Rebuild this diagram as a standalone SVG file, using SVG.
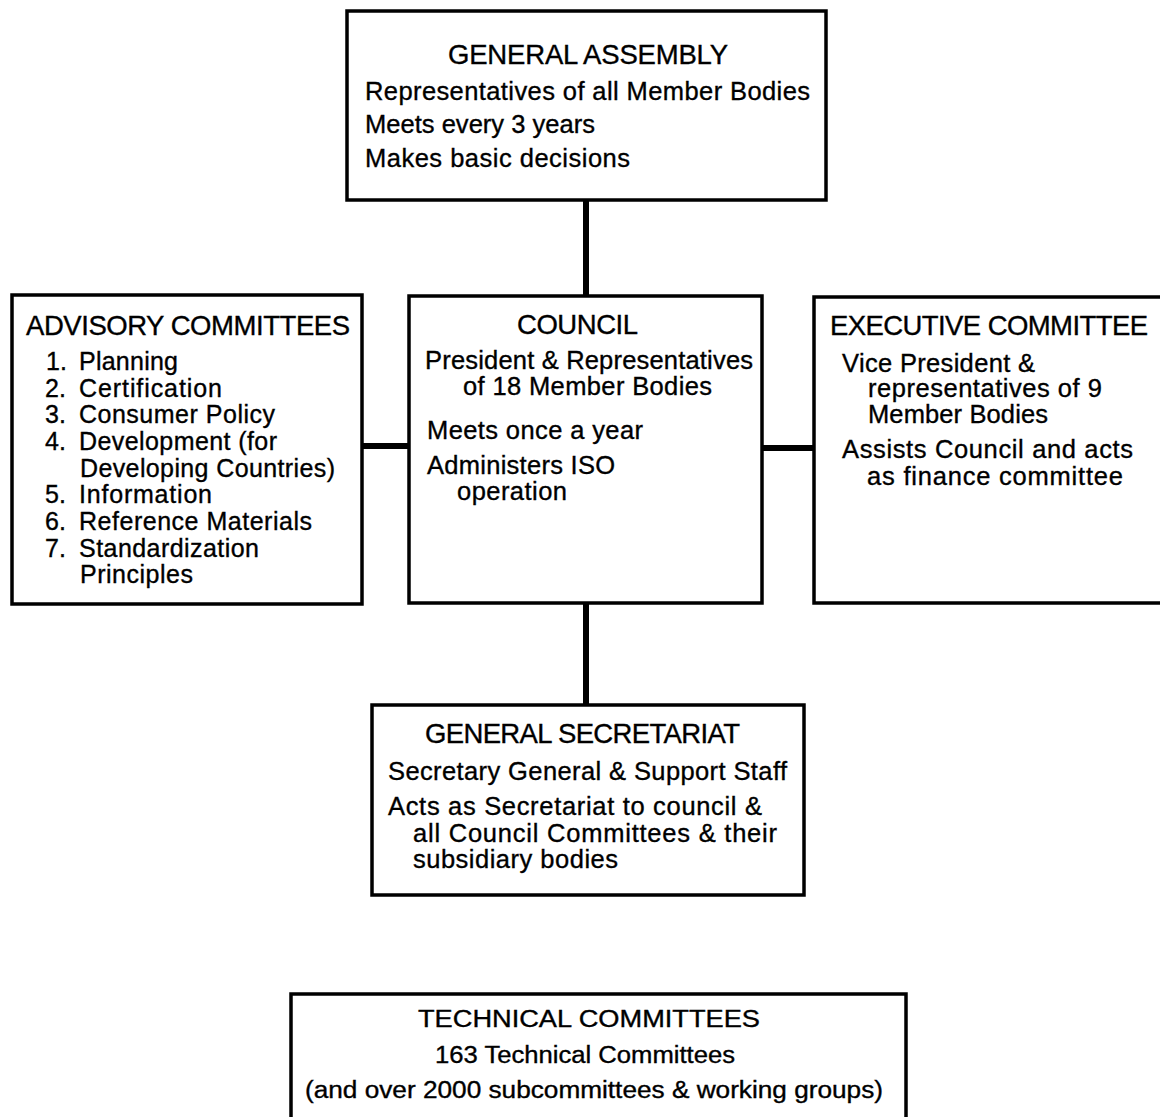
<svg xmlns="http://www.w3.org/2000/svg" width="1160" height="1117" viewBox="0 0 1160 1117">
  <style>
    .box { fill: #fff; stroke: #000; stroke-width: 3.5; }
    .link { stroke: #000; stroke-width: 6; fill: none; }
    text { font-family: "Liberation Sans", Arial, Helvetica, sans-serif; fill: #000; stroke: #000; stroke-width: 0.35; }
    .title { font-size: 27.5px; }
    .body { font-size: 25.5px; }
    .item { font-size: 25px; }
    .tc { font-size: 23px; }
  </style>
  <rect width="1160" height="1117" fill="#fff"/>

  <!-- connectors -->
  <g id="connectors">
    <line class="link" x1="586" y1="200" x2="586" y2="296"/>
    <line class="link" x1="362" y1="446" x2="409" y2="446"/>
    <line class="link" x1="762" y1="448" x2="814" y2="448"/>
    <line class="link" x1="586" y1="603" x2="586" y2="705"/>
  </g>

  <!-- General Assembly -->
  <g id="general-assembly">
    <rect class="box" x="347" y="11" width="479" height="189"/>
    <text class="title" x="448" y="64" textLength="280" lengthAdjust="spacing">GENERAL ASSEMBLY</text>
    <text class="body" x="365" y="100" textLength="445" lengthAdjust="spacing">Representatives of all Member Bodies</text>
    <text class="body" x="365" y="133" textLength="230" lengthAdjust="spacing">Meets every 3 years</text>
    <text class="body" x="365" y="167" textLength="265" lengthAdjust="spacing">Makes basic decisions</text>
  </g>

  <!-- Advisory Committees -->
  <g id="advisory-committees">
    <rect class="box" x="12" y="295" width="350" height="309"/>
    <text class="title" x="26" y="335" textLength="324" lengthAdjust="spacing">ADVISORY COMMITTEES</text>
    <text class="item" x="46" y="370">1.</text>
    <text class="item" x="79" y="370" textLength="99" lengthAdjust="spacing">Planning</text>
    <text class="item" x="45" y="397">2.</text>
    <text class="item" x="79" y="397" textLength="143" lengthAdjust="spacing">Certification</text>
    <text class="item" x="45" y="423">3.</text>
    <text class="item" x="79" y="423" textLength="196" lengthAdjust="spacing">Consumer Policy</text>
    <text class="item" x="45" y="450">4.</text>
    <text class="item" x="79" y="450" textLength="198" lengthAdjust="spacing">Development (for</text>
    <text class="item" x="80" y="477" textLength="255" lengthAdjust="spacing">Developing Countries)</text>
    <text class="item" x="45" y="503">5.</text>
    <text class="item" x="79" y="503" textLength="133" lengthAdjust="spacing">Information</text>
    <text class="item" x="45" y="530">6.</text>
    <text class="item" x="79" y="530" textLength="233" lengthAdjust="spacing">Reference Materials</text>
    <text class="item" x="45" y="557">7.</text>
    <text class="item" x="79" y="557" textLength="180" lengthAdjust="spacing">Standardization</text>
    <text class="item" x="80" y="583" textLength="113" lengthAdjust="spacing">Principles</text>
  </g>

  <!-- Council -->
  <g id="council">
    <rect class="box" x="409" y="296" width="353" height="307"/>
    <text class="title" x="517" y="334" textLength="121" lengthAdjust="spacing">COUNCIL</text>
    <text class="body" x="425" y="369" textLength="328" lengthAdjust="spacing">President &amp; Representatives</text>
    <text class="body" x="463" y="395" textLength="249" lengthAdjust="spacing">of 18 Member Bodies</text>
    <text class="body" x="427" y="439" textLength="216" lengthAdjust="spacing">Meets once a year</text>
    <text class="body" x="427" y="474" textLength="188" lengthAdjust="spacing">Administers ISO</text>
    <text class="body" x="457" y="500" textLength="110" lengthAdjust="spacing">operation</text>
  </g>

  <!-- Executive Committee (runs past the right edge) -->
  <g id="executive-committee">
    <rect class="box" x="814" y="297" width="400" height="306"/>
    <text class="title" x="830" y="335" textLength="318" lengthAdjust="spacing">EXECUTIVE COMMITTEE</text>
    <text class="body" x="842" y="372" textLength="193" lengthAdjust="spacing">Vice President &amp;</text>
    <text class="body" x="868" y="397" textLength="234" lengthAdjust="spacing">representatives of 9</text>
    <text class="body" x="868" y="423" textLength="180" lengthAdjust="spacing">Member Bodies</text>
    <text class="body" x="842" y="458" textLength="291" lengthAdjust="spacing">Assists Council and acts</text>
    <text class="body" x="867" y="485" textLength="256" lengthAdjust="spacing">as finance committee</text>
  </g>

  <!-- General Secretariat -->
  <g id="general-secretariat">
    <rect class="box" x="372" y="705" width="432" height="190"/>
    <text class="title" x="425" y="743" textLength="315" lengthAdjust="spacing">GENERAL SECRETARIAT</text>
    <text class="body" x="388" y="780" textLength="399" lengthAdjust="spacing">Secretary General &amp; Support Staff</text>
    <text class="body" x="388" y="815" textLength="374" lengthAdjust="spacing">Acts as Secretariat to council &amp;</text>
    <text class="body" x="413" y="842" textLength="364" lengthAdjust="spacing">all Council Committees &amp; their</text>
    <text class="body" x="413" y="868" textLength="205" lengthAdjust="spacing">subsidiary bodies</text>
  </g>

  <!-- Technical Committees (box runs past the lower edge) -->
  <g id="technical-committees">
    <rect class="box" x="291" y="994" width="615" height="140"/>
    <text class="tc" x="418" y="1027" textLength="342" lengthAdjust="spacingAndGlyphs">TECHNICAL COMMITTEES</text>
    <text class="tc" x="435" y="1063" textLength="300" lengthAdjust="spacingAndGlyphs">163 Technical Committees</text>
    <text class="tc" x="305" y="1098" textLength="578" lengthAdjust="spacingAndGlyphs">(and over 2000 subcommittees &amp; working groups)</text>
  </g>
</svg>
